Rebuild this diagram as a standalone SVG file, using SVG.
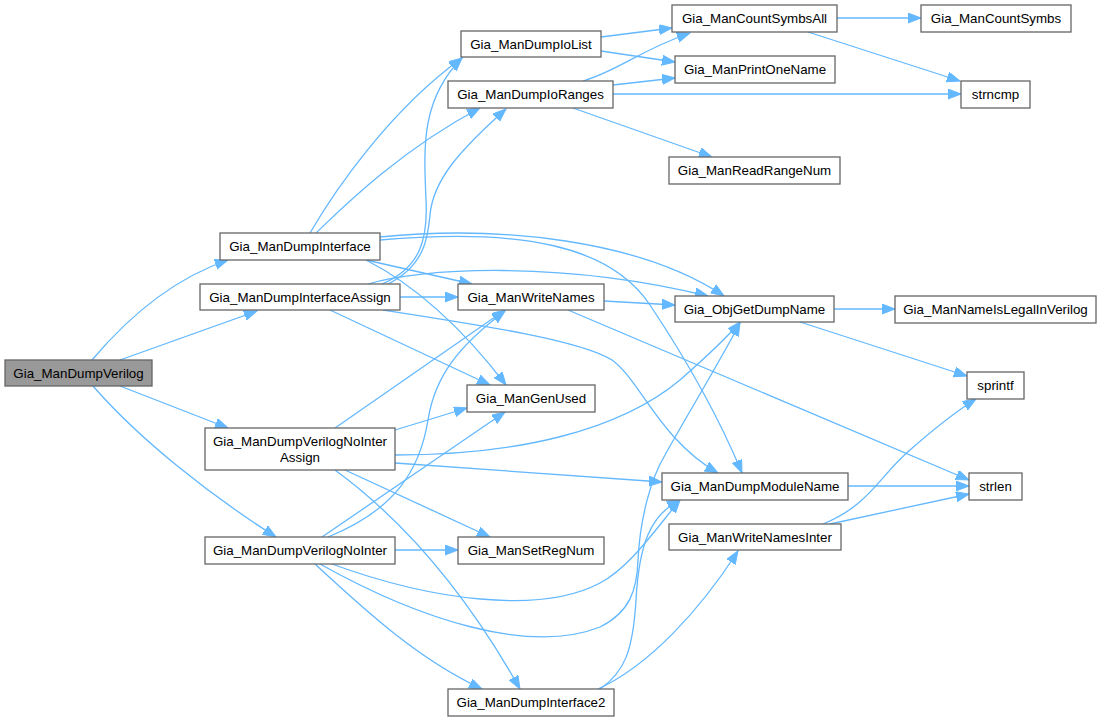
<svg xmlns="http://www.w3.org/2000/svg" width="1101" height="721" viewBox="0 0 1101 721">
<style>
.n rect{fill:#ffffff;stroke:#666666;stroke-width:1.3}
.n.root rect{fill:#999999}
.n text{font-family:"Liberation Sans",Arial,Helvetica,sans-serif;font-size:13.33px;fill:#000000;text-anchor:middle}
.e path{fill:none;stroke:#63b8ff;stroke-width:1.3;marker-end:url(#ah)}
</style>
<defs>
<marker id="ah" markerUnits="userSpaceOnUse" markerWidth="14" markerHeight="11" refX="13" refY="5" orient="auto">
<path d="M0,0 L13,5 L0,10 Z" fill="#63b8ff" stroke="#63b8ff" stroke-width="1"/>
</marker>
</defs>
<rect width="1101" height="721" fill="#ffffff"/>
<g id="edges" class="e">
<path d="M92,360 C130,315 175,278 228,260"/>
<path d="M120,360 L257,311"/>
<path d="M120,386 L228,428"/>
<path d="M93,386 C140,440 210,495 276,537"/>
<path d="M310,233 C335,190 390,110 462,58"/>
<path d="M316,233 C340,210 400,150 480,108"/>
<path d="M380,237 C500,225 640,240 724,296"/>
<path d="M380,240 C520,228 610,245 650,305 C690,365 720,420 742,473"/>
<path d="M366,260 L472,284"/>
<path d="M366,260 C415,285 460,325 506,385"/>
<path d="M382,284 C420,268 428,240 426,200 C424,150 420,100 462,58"/>
<path d="M388,284 C426,265 428,235 430,215 C433,180 460,150 506,109"/>
<path d="M368,284 C420,268 560,260 708,296"/>
<path d="M400,297 L458,297"/>
<path d="M330,310 L490,385"/>
<path d="M383,310 C480,325 580,340 612,360 C640,380 660,440 718,473"/>
<path d="M601,37 L672,28"/>
<path d="M601,51 L675,62"/>
<path d="M583,81 C620,70 640,50 690,33"/>
<path d="M613,85 L675,78"/>
<path d="M613,94 L961,94"/>
<path d="M573,108 L712,157"/>
<path d="M837,18 L921,18"/>
<path d="M808,32 L960,81"/>
<path d="M604,301 L675,305"/>
<path d="M568,310 L969,480"/>
<path d="M834,309 L895,309"/>
<path d="M800,322 L967,376"/>
<path d="M848,486 L969,486"/>
<path d="M823,524 C870,505 880,475 910,450 C935,428 955,412 976,399"/>
<path d="M830,524 L969,494"/>
<path d="M335,428 L505,310"/>
<path d="M395,430 L467,408"/>
<path d="M395,455 C520,455 620,430 680,380 C705,358 725,340 740,322"/>
<path d="M395,463 L662,482"/>
<path d="M345,470 L490,537"/>
<path d="M335,470 C410,525 470,600 520,689"/>
<path d="M328,537 C395,510 420,470 428,420 C435,375 460,345 505,311"/>
<path d="M322,537 L505,412"/>
<path d="M395,550 L458,550"/>
<path d="M315,564 C370,615 420,660 482,689"/>
<path d="M332,564 C430,600 540,615 600,583 C630,567 655,530 680,500"/>
<path d="M320,564 C420,620 530,655 600,627 C630,612 637,590 638,560 C640,520 650,480 665,455 C690,410 715,370 740,323"/>
<path d="M600,689 C625,672 633,650 636,600 C639,545 650,515 680,500"/>
<path d="M598,689 C650,665 700,610 738,551"/>
</g>
<g id="n_Gia_ManDumpVerilog" class="n root"><rect x="5" y="360" width="147" height="26"/><text x="78.5" y="377.5">Gia_ManDumpVerilog</text></g>
<g id="n_Gia_ManDumpInterface" class="n"><rect x="220" y="233" width="160" height="27"/><text x="300" y="251">Gia_ManDumpInterface</text></g>
<g id="n_Gia_ManDumpInterfaceAssign" class="n"><rect x="200" y="284" width="200" height="26"/><text x="300" y="301.5">Gia_ManDumpInterfaceAssign</text></g>
<g id="n_Gia_ManDumpIoList" class="n"><rect x="461" y="31" width="140" height="26"/><text x="531" y="48.5">Gia_ManDumpIoList</text></g>
<g id="n_Gia_ManDumpIoRanges" class="n"><rect x="448" y="81" width="165" height="27"/><text x="530.5" y="99">Gia_ManDumpIoRanges</text></g>
<g id="n_Gia_ManCountSymbsAll" class="n"><rect x="672" y="5" width="165" height="27"/><text x="754.5" y="23">Gia_ManCountSymbsAll</text></g>
<g id="n_Gia_ManPrintOneName" class="n"><rect x="675" y="56" width="160" height="27"/><text x="755" y="74">Gia_ManPrintOneName</text></g>
<g id="n_Gia_ManReadRangeNum" class="n"><rect x="669" y="157" width="171" height="27"/><text x="754.5" y="175">Gia_ManReadRangeNum</text></g>
<g id="n_Gia_ManCountSymbs" class="n"><rect x="921" y="5" width="150" height="27"/><text x="996" y="23">Gia_ManCountSymbs</text></g>
<g id="n_strncmp" class="n"><rect x="961" y="81" width="69" height="27"/><text x="995.5" y="99">strncmp</text></g>
<g id="n_Gia_ManWriteNames" class="n"><rect x="458" y="284" width="146" height="26"/><text x="531" y="301.5">Gia_ManWriteNames</text></g>
<g id="n_Gia_ManGenUsed" class="n"><rect x="467" y="385" width="128" height="27"/><text x="531" y="403">Gia_ManGenUsed</text></g>
<g id="n_Gia_ManDumpVerilogNoInterAssign" class="n"><rect x="205" y="428" width="190" height="42"/><text x="300" y="446">Gia_ManDumpVerilogNoInter</text><text x="300" y="462">Assign</text></g>
<g id="n_Gia_ObjGetDumpName" class="n"><rect x="675" y="296" width="159" height="26"/><text x="754.5" y="313.5">Gia_ObjGetDumpName</text></g>
<g id="n_Gia_ManNameIsLegalInVerilog" class="n"><rect x="895" y="296" width="201" height="27"/><text x="995.5" y="314">Gia_ManNameIsLegalInVerilog</text></g>
<g id="n_sprintf" class="n"><rect x="967" y="372" width="57" height="27"/><text x="995.5" y="390">sprintf</text></g>
<g id="n_strlen" class="n"><rect x="969" y="473" width="53" height="27"/><text x="995.5" y="491">strlen</text></g>
<g id="n_Gia_ManDumpModuleName" class="n"><rect x="662" y="473" width="186" height="27"/><text x="755" y="491">Gia_ManDumpModuleName</text></g>
<g id="n_Gia_ManWriteNamesInter" class="n"><rect x="669" y="524" width="172" height="26"/><text x="755" y="541.5">Gia_ManWriteNamesInter</text></g>
<g id="n_Gia_ManDumpVerilogNoInter" class="n"><rect x="205" y="537" width="190" height="27"/><text x="300" y="555">Gia_ManDumpVerilogNoInter</text></g>
<g id="n_Gia_ManSetRegNum" class="n"><rect x="458" y="537" width="146" height="27"/><text x="531" y="555">Gia_ManSetRegNum</text></g>
<g id="n_Gia_ManDumpInterface2" class="n"><rect x="448" y="689" width="166" height="27"/><text x="531" y="707">Gia_ManDumpInterface2</text></g>
</svg>
